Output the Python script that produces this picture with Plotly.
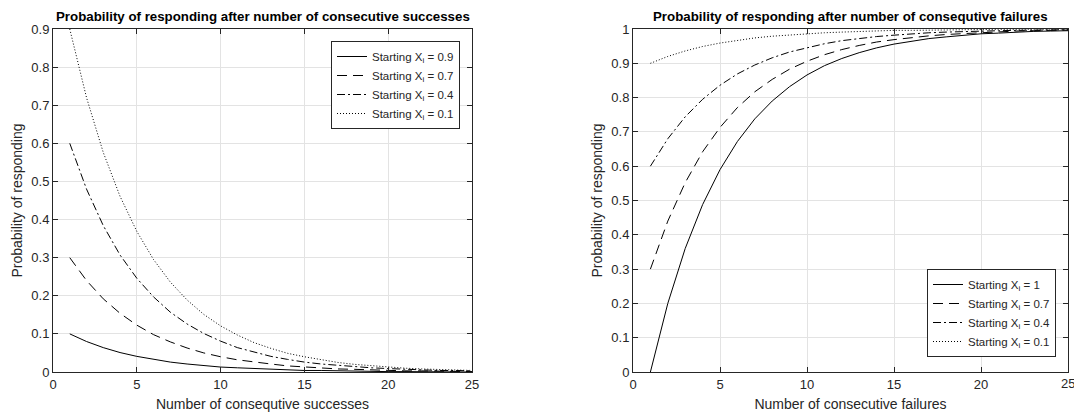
import plotly.graph_objects as go

n_steps = list(range(1, 26))
x_ticks = [0, 5, 10, 15, 20, 25]

# Left panel: consecutive successes
succ_labels = ["Starting X<sub>i</sub> = 0.9", "Starting X<sub>i</sub> = 0.7",
               "Starting X<sub>i</sub> = 0.4", "Starting X<sub>i</sub> = 0.1"]
succ_a = [0.100, 0.080, 0.064, 0.051, 0.041, 0.033, 0.026, 0.021, 0.017, 0.013, 0.011, 0.009, 0.007,
          0.005, 0.004, 0.004, 0.003, 0.002, 0.002, 0.001, 0.001, 0.001, 0.001, 0.001, 0.000]
succ_b = [0.300, 0.240, 0.192, 0.154, 0.123, 0.098, 0.079, 0.063, 0.050, 0.040, 0.032, 0.026, 0.021,
          0.016, 0.013, 0.011, 0.008, 0.007, 0.005, 0.004, 0.003, 0.003, 0.002, 0.002, 0.001]
succ_c = [0.600, 0.480, 0.384, 0.307, 0.246, 0.197, 0.157, 0.126, 0.101, 0.081, 0.064, 0.052, 0.041,
          0.033, 0.026, 0.021, 0.017, 0.014, 0.011, 0.009, 0.007, 0.006, 0.004, 0.004, 0.003]
succ_d = [0.900, 0.720, 0.576, 0.461, 0.369, 0.295, 0.236, 0.189, 0.151, 0.121, 0.097, 0.077, 0.062,
          0.049, 0.040, 0.032, 0.025, 0.020, 0.016, 0.013, 0.010, 0.008, 0.007, 0.005, 0.004]

# Right panel: consecutive failures
fail_labels = ["Starting X<sub>i</sub> = 1", "Starting X<sub>i</sub> = 0.7",
               "Starting X<sub>i</sub> = 0.4", "Starting X<sub>i</sub> = 0.1"]
fail_a = [0.000, 0.200, 0.360, 0.488, 0.590, 0.672, 0.738, 0.790, 0.832, 0.866, 0.893, 0.914, 0.931,
          0.945, 0.956, 0.965, 0.972, 0.977, 0.982, 0.986, 0.988, 0.991, 0.993, 0.994, 0.995]
fail_b = [0.300, 0.440, 0.552, 0.642, 0.713, 0.771, 0.817, 0.853, 0.883, 0.906, 0.925, 0.940, 0.952,
          0.962, 0.969, 0.975, 0.980, 0.984, 0.987, 0.990, 0.992, 0.994, 0.995, 0.996, 0.997]
fail_c = [0.600, 0.680, 0.744, 0.795, 0.836, 0.869, 0.895, 0.916, 0.933, 0.946, 0.957, 0.966, 0.973,
          0.978, 0.982, 0.986, 0.989, 0.991, 0.993, 0.994, 0.995, 0.996, 0.997, 0.998, 0.998]
fail_d = [0.900, 0.920, 0.936, 0.949, 0.959, 0.967, 0.974, 0.979, 0.983, 0.987, 0.989, 0.991, 0.993,
          0.995, 0.996, 0.996, 0.997, 0.998, 0.998, 0.999, 0.999, 0.999, 0.999, 0.999, 1.000]

dashes = ["solid", "10px,6px", "8px,3px,2px,3px", "1px,2px"]

FONT = "Liberation Sans, Arial, Helvetica, sans-serif"
TXT = "#262626"

fig = go.Figure()
for ys, lab, d in zip([succ_a, succ_b, succ_c, succ_d], succ_labels, dashes):
    fig.add_trace(go.Scatter(x=n_steps, y=ys, mode="lines", name=lab,
                             line=dict(color="black", width=1, dash=d),
                             xaxis="x", yaxis="y", legend="legend"))
for ys, lab, d in zip([fail_a, fail_b, fail_c, fail_d], fail_labels, dashes):
    fig.add_trace(go.Scatter(x=n_steps, y=ys, mode="lines", name=lab,
                             line=dict(color="black", width=1, dash=d),
                             xaxis="x2", yaxis="y2", legend="legend2"))

ax_common = dict(showline=True, linecolor=TXT, linewidth=1, mirror="ticks",
                 ticks="inside", ticklen=5, tickcolor=TXT, automargin=False,
                 showgrid=True, gridcolor="#e3e3e3", gridwidth=1,
                 zeroline=False, tickfont=dict(family=FONT, size=13, color=TXT),
                 title_font=dict(family=FONT, size=14, color=TXT))

W, H = 1074, 415
L, R, T, B = 53, 6, 29, 43
pw = W - L - R
ph = H - T - B

# The last right-hand tick label sits on the figure edge (clipped in the reference);
# Plotly drops such labels, so draw it as text at the axis value instead.
edge_label = dict(text=str(x_ticks[-1]), xref="x2", yref="y2 domain", x=x_ticks[-1], y=0,
                  xanchor="center", yanchor="top", yshift=-2, showarrow=False,
                  font=dict(family=FONT, size=13, color=TXT))

fig.update_layout(
    width=W, height=H, autosize=False,
    margin=dict(l=L, r=R, t=T, b=B),
    paper_bgcolor="white", plot_bgcolor="white",
    font=dict(family=FONT, color=TXT),
    xaxis=dict(domain=[0, (472 - L) / pw], range=[0, 25], tickvals=x_ticks,
               title=dict(text="Number of consequtive successes", standoff=8), **ax_common),
    yaxis=dict(range=[0, 0.9], dtick=0.1,
               title=dict(text="Probability of responding", standoff=5), **ax_common),
    xaxis2=dict(domain=[(633 - L) / pw, 1], range=[0, 25], tickvals=x_ticks, anchor="y2",
                title=dict(text="Number of consecutive failures", standoff=8), **ax_common),
    yaxis2=dict(range=[0, 1], dtick=0.1, anchor="x2",
                title=dict(text="Probability of responding", standoff=5), **ax_common),
    legend=dict(x=(460 - L) / pw, y=1 - (41 - T) / ph, xanchor="right", yanchor="top",
                bgcolor="white", bordercolor=TXT, borderwidth=1,
                font=dict(family=FONT, size=11.5, color=TXT), itemwidth=30,
                tracegroupgap=0),
    legend2=dict(x=(1056 - L) / pw, y=(372 - 357) / ph, xanchor="right", yanchor="bottom",
                 bgcolor="white", bordercolor=TXT, borderwidth=1,
                 font=dict(family=FONT, size=11.5, color=TXT), itemwidth=30,
                 tracegroupgap=0),
    annotations=[
        dict(text="<b>Probability of responding after number of consecutive successes</b>",
             xref="x domain", yref="y domain", x=0.5, y=1, yshift=3, xanchor="center",
             yanchor="bottom", showarrow=False, font=dict(family=FONT, size=13.3, color="black")),
        dict(text="<b>Probability of responding after number of consequtive failures</b>",
             xref="x2 domain", yref="y2 domain", x=0.5, y=1, yshift=3, xanchor="center",
             yanchor="bottom", showarrow=False, font=dict(family=FONT, size=13.3, color="black")),
        edge_label,
    ],
)

fig.write_html(
    "out.html",
    config={"displayModeBar": False, "responsive": False},
    post_script=("document.documentElement.style.overflow='hidden';"
                 "document.body.style.margin='0';document.body.style.padding='0';"
                 "document.body.style.overflow='hidden';"),
)
